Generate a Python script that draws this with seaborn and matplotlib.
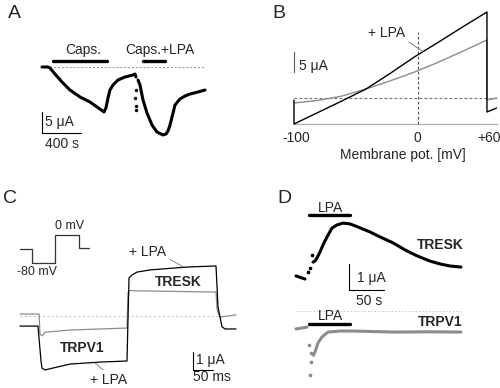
import matplotlib
matplotlib.use('Agg')
import matplotlib.pyplot as plt
import seaborn as sns

W, H = 500, 388

# ---------------- data ----------------
# A: whole-cell current (uA) vs time (s)
a_t_caps = [0, 62, 82, 133, 205, 287, 390, 492, 636, 656, 677, 697, 728, 779, 851, 933, 954, 964]
a_i_caps = [0, 0, -0.24, -1.67, -3.57, -5.48, -7.14, -8.33, -10.7, -9.76, -7.38, -5.48,
            -4.29, -3.10, -2.38, -1.90, -1.67, -2.38]
a_t_dots = [964, 954, 964, 964]
a_i_dots = [-5.48, -7.38, -9.29, -10.24]
a_t_lpa = [985, 1005, 1036, 1077, 1128, 1179, 1241, 1272, 1292, 1313, 1344, 1364, 1415,
           1467, 1518, 1600, 1672]
a_i_lpa = [-3.10, -4.29, -7.86, -10.95, -13.81, -15.48, -16.19, -15.95, -15.24, -13.81,
           -10.95, -9.05, -7.62, -6.90, -6.43, -5.95, -5.48]
a_caps_bar = [113, 667]
a_capslpa_bar = [1036, 1262]

# B: I-V ramp, current (uA) vs membrane potential (mV)
b_v = [-100, -100, -80, -60, -40, -20, 0, 20, 40, 60, 60, 68]
b_i_lpa = [-0.5, -6.5, -3.6, -0.7, 2.3, 6.2, 10.3, 14.0, 17.8, 21.5, -3.5, -2.5]
b_i_ctl = [-1.25, -1.25, -0.6, 0.5, 2.3, 4.3, 6.5, 9.0, 11.7, 14.5, -0.5, 0.0]
b_ticks = [-100, 0, 60]
b_ticklabels = ['-100', '0', '+60']

# C: voltage-step currents (uA) vs time (ms)
c_t_ctl = [0, 47.5, 50, 55, 62.5, 125, 200, 267.5, 270, 275, 287.5, 490, 493, 500, 540]
c_i_ctl = [0.11, 0.11, -1.0, -1.1, -0.9, -0.78, -0.72, -0.67, 1.3, 1.42, 1.40, 1.33, 0.3,
           -0.06, 0.06]
c_t_lpa = [0, 45, 52.5, 55, 62.5, 82.5, 125, 200, 267.5, 272.5, 280, 292.5, 325, 417.5,
           490, 495, 505, 512.5, 540]
c_i_lpa = [-0.56, -0.56, -2.5, -2.89, -3.0, -2.89, -2.67, -2.56, -2.5, 2.11, 2.28, 2.44,
           2.56, 2.72, 2.78, 0.5, -0.6, -0.72, -0.72]
# C inset: voltage protocol (mV) vs time (ms)
p_t = [0, 50, 50, 146, 146, 246, 246, 287]
p_v = [-40, -40, -80, -80, 0, 0, -37, -37]

# D: current (uA) vs time (s)
d_t_tresk_pre = [0, 12.9]
d_i_tresk_pre = [1.35, 1.23]
d_t_tresk_dots = [17.1, 20.0, 22.9]
d_i_tresk_dots = [1.50, 1.65, 2.15]
d_t_tresk = [24.3, 27.1, 30.0, 34.3, 38.6, 44.3, 51.4, 58.6, 67.1, 77.1, 88.6, 105.7, 120,
             138.6, 155.7, 172.9, 191.4, 205.7, 220, 235.7]
d_i_tresk = [1.88, 1.92, 2.04, 2.27, 2.54, 2.85, 3.19, 3.31, 3.38, 3.35, 3.23, 3.04, 2.85,
             2.62, 2.35, 2.12, 1.92, 1.81, 1.73, 1.69]
d_t_trpv_pre = [0, 15.7]
d_i_trpv_pre = [-0.69, -0.62]
d_t_trpv_dots = [18.6, 21.4, 21.4, 20.0]
d_i_trpv_dots = [-1.31, -1.62, -1.96, -2.46]
d_t_trpv = [25.0, 27.1, 31.4, 37.1, 45.7, 62.9, 80, 141, 190, 235.7]
d_i_trpv = [-1.70, -1.58, -1.23, -1.0, -0.81, -0.77, -0.77, -0.81, -0.80, -0.81]
d_lpa_bar = [18.6, 77.1]

GRAY = '#8c8c8c'
LIGHT = '#b4b4b4'

sns.set_theme(style='white')
plt.rcParams['font.family'] = ['Liberation Sans', 'DejaVu Sans']

fig = plt.figure(figsize=(W / 100, H / 100), dpi=100)


def panel(box, x0, sx, y0, sy):
    """Axes over a pixel box; data unit -> pixel via x0 + x*sx, y0 - y*sy."""
    left, top, right, bottom = box
    ax = fig.add_axes([left / W, 1 - bottom / H, (right - left) / W, (bottom - top) / H])
    ax.set_xlim((left - x0) / sx, (right - x0) / sx)
    ax.set_ylim((y0 - bottom) / sy, (y0 - top) / sy)
    ax.axis('off')
    return ax


def trace(ax, x, y, **kw):
    sns.lineplot(x=x, y=y, ax=ax, estimator=None, sort=False, legend=False, **kw)


def dots(ax, x, y, color, s):
    sns.scatterplot(x=x, y=y, ax=ax, color=color, s=s, linewidth=0, legend=False)


FS = 10

# ---------------- A ----------------
axA = panel((0, 0, 250, 190), 42, 0.0975, 67, 4.2)
trace(axA, [0, 1672], [0, 0], color='#909090', lw=0.7, dashes=(2, 2))
trace(axA, a_t_caps, a_i_caps, color='black', lw=2.2)
dots(axA, a_t_dots, a_i_dots, 'black', 6)
trace(axA, a_t_lpa, a_i_lpa, color='black', lw=2.2)
trace(axA, a_caps_bar, [1.43, 1.43], color='black', lw=2.4)
trace(axA, a_capslpa_bar, [1.43, 1.43], color='black', lw=2.4)
axA.text(420, 4.05, 'Caps.', ha='center', va='center', fontsize=FS)
axA.text(1210, 4.05, 'Caps.+LPA', ha='center', va='center', fontsize=FS)
axA.plot([0, 0, 400], [-10.7, -15.7, -15.7], color='black', lw=0.8)
axA.text(31, -13.1, '5 μA', ha='left', va='center', fontsize=FS)
axA.text(31, -18.3, '400 s', ha='left', va='center', fontsize=FS)

# ---------------- B ----------------
axB = panel((250, 0, 500, 190), 414.6, 1.206, 98, 4.0)
axB.plot([-100, 68], [-6.5, -6.5], color=LIGHT, lw=1.0)
trace(axB, [-100, 68], [0, 0], color='#707070', lw=0.8, dashes=(2.5, 2))
trace(axB, [3, 3], [-6.5, 16.5], color='#505050', lw=0.8, dashes=(2.5, 2))
trace(axB, b_v, b_i_ctl, color=GRAY, lw=1.0)
trace(axB, b_v, b_i_lpa, color='black', lw=1.0)
axB.plot([-100, -100], [6.5, 11.5], color='#555555', lw=0.8)
axB.text(-95.5, 7.9, '5 μA', ha='left', va='center', fontsize=FS)
axB.annotate('+ LPA', xy=(7, 11.6), xytext=(-23, 16.3), ha='center', va='center',
             fontsize=FS, arrowprops=dict(arrowstyle='-', color='#666666', lw=0.6,
                                          shrinkA=0, shrinkB=0, relpos=(1, 0)))
for v, lab in zip(b_ticks, b_ticklabels):
    axB.text(v + 2, -10, lab, ha='center', va='center', fontsize=FS)
axB.text(-9.6, -14.3, 'Membrane pot. [mV]', ha='center', va='center', fontsize=FS)

# ---------------- C ----------------
axC = panel((0, 190, 260, 388), 20, 0.4, 316, 18)
trace(axC, [0, 495], [0, 0], color='#c8c8c8', lw=0.8, dashes=(2, 2))
trace(axC, c_t_ctl, c_i_ctl, color=GRAY, lw=0.9)
trace(axC, c_t_lpa, c_i_lpa, color='black', lw=0.9)
axC.text(155, -1.8, 'TRPV1', ha='center', va='center', fontsize=FS, fontweight='bold')
axC.text(397, 1.9, 'TRESK', ha='center', va='center', fontsize=FS, fontweight='bold')
axC.annotate('+ LPA', xy=(407, 2.75), xytext=(320, 3.55), ha='center', va='center',
             fontsize=FS, arrowprops=dict(arrowstyle='-', color='#777777', lw=0.6,
                                          shrinkA=0, shrinkB=0, relpos=(1, 0.1)))
axC.annotate('+ LPA', xy=(187, -2.6), xytext=(222, -3.56), ha='center', va='center',
             fontsize=FS, arrowprops=dict(arrowstyle='-', color='#777777', lw=0.6,
                                          shrinkA=0, shrinkB=0, relpos=(0.45, 1)))
axC.plot([432.5, 432.5, 482.5], [-2.0, -3.0, -3.0], color='black', lw=0.8)
axC.text(440, -2.45, '1 μA', ha='left', va='center', fontsize=FS)
axC.text(432.5, -3.38, '50 ms', ha='left', va='center', fontsize=FS)

axP = panel((0, 200, 110, 290), 20, 0.24, 235, 0.35)
trace(axP, p_t, p_v, color='#333333', lw=0.9)
axP.text(146, 26, '0 mV', ha='left', va='center', fontsize=FS - 1)
axP.text(-12, -106, '-80 mV', ha='left', va='center', fontsize=FS - 1)

# ---------------- D ----------------
axD = panel((260, 190, 500, 388), 296, 0.7, 311, 26)
trace(axD, [0, 235.7], [0, 0], color='#c8c8c8', lw=0.7, dashes=(1.5, 2))
trace(axD, d_t_tresk_pre, d_i_tresk_pre, color='black', lw=2.2)
dots(axD, d_t_tresk_dots, d_i_tresk_dots, 'black', 7)
trace(axD, d_t_tresk, d_i_tresk, color='black', lw=2.2)
trace(axD, d_t_trpv_pre, d_i_trpv_pre, color=GRAY, lw=2.2)
dots(axD, d_t_trpv_dots, d_i_trpv_dots, GRAY, 7)
trace(axD, d_t_trpv, d_i_trpv, color=GRAY, lw=2.2)
trace(axD, d_lpa_bar, [3.69, 3.69], color='black', lw=2.4)
trace(axD, d_lpa_bar, [-0.5, -0.5], color='black', lw=2.4)
axD.text(48.6, 3.97, 'LPA', ha='center', va='center', fontsize=FS)
axD.text(48.6, -0.19, 'LPA', ha='center', va='center', fontsize=FS)
axD.text(240, 2.54, 'TRESK', ha='right', va='center', fontsize=FS, fontweight='bold')
axD.text(237.5, -0.42, 'TRPV1', ha='right', va='center', fontsize=FS, fontweight='bold')
axD.plot([75.7, 75.7, 125.7], [1.81, 0.81, 0.81], color='black', lw=0.8)
axD.text(87, 1.27, '1 μA', ha='left', va='center', fontsize=FS)
axD.text(85.7, 0.4, '50 s', ha='left', va='center', fontsize=FS)

# panel letters
for lab, (x, y) in zip('ABCD', [(8, 13), (272, 13), (3, 199), (277, 199)]):
    fig.text(x / W, 1 - y / H, lab, ha='left', va='center', fontsize=14)

fig.savefig('out.png', dpi=100)
